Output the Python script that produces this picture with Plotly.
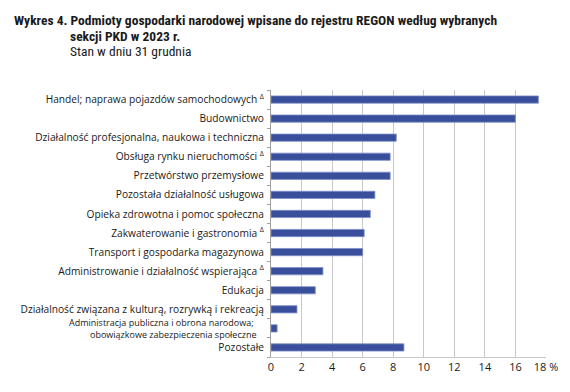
import plotly.graph_objects as go

categories = [
    "Handel; naprawa pojazdów samochodowych <sup>Δ</sup>",
    "Budownictwo",
    "Działalność profesjonalna, naukowa i techniczna",
    "Obsługa rynku nieruchomości <sup>Δ</sup>",
    "Przetwórstwo przemysłowe",
    "Pozostała działalność usługowa",
    "Opieka zdrowotna i pomoc społeczna",
    "Zakwaterowanie i gastronomia <sup>Δ</sup>",
    "Transport i gospodarka magazynowa",
    "Administrowanie i działalność wspierająca <sup>Δ</sup>",
    "Edukacja",
    "Działalność związana z kulturą, rozrywką i rekreacją",
    "Administracja publiczna i obrona narodowa;<br>obowiązkowe zabezpieczenia społeczne",
    "Pozostałe",
]
values = [17.5, 16.0, 8.2, 7.8, 7.8, 6.8, 6.5, 6.1, 6.0, 3.4, 2.9, 1.7, 0.4, 8.7]
tick_vals = [0, 2, 4, 6, 8, 10, 12, 14, 16, 18]
tick_text = ["0", "2", "4", "6", "8", "10", "12", "14", "16", "18 %"]

title_line1 = "Wykres 4. Podmioty gospodarki narodowej wpisane do rejestru REGON według wybranych"
title_line2 = "sekcji PKD w 2023 r."
subtitle = "Stan w dniu 31 grudnia"

FONT = "Open Sans"
TFONT = "Liberation Sans Narrow, Roboto Condensed, Roboto"

fig = go.Figure(
    go.Bar(
        x=values,
        y=categories,
        orientation="h",
        width=0.38,
        marker=dict(color="#3a4f9c", line=dict(color="#7f8fc8", width=0.8)),
    )
)

L, R, T, B = 271, 24, 90, 35
W, H = 570, 392
pw = W - L - R


def px(xp):
    return (xp - L) / pw


def py(yp):
    return 1 + (T - yp) / (H - T - B)


# multi-line category label drawn as separate lines (tighter line spacing)
y_ticktext = ["" if "<br>" in c else c for c in categories]
multi = [c for c in categories if "<br>" in c][0].split("<br>")

annotations = [
    dict(text="<b>" + title_line1 + "</b>", x=px(12), y=py(20), xref="paper", yref="paper",
         xanchor="left", yanchor="middle", showarrow=False,
         font=dict(family=TFONT, size=13.5, color="#1a1a1a")),
    dict(text="<b>" + title_line2 + "</b>", x=px(68), y=py(36), xref="paper", yref="paper",
         xanchor="left", yanchor="middle", showarrow=False,
         font=dict(family=TFONT, size=13.5, color="#1a1a1a")),
    dict(text=subtitle, x=px(68), y=py(51), xref="paper", yref="paper",
         xanchor="left", yanchor="middle", showarrow=False,
         font=dict(family=TFONT, size=13.5, color="#1a1a1a")),
]
for line, xr, yc in zip(multi, [256, 259], [322.6, 334.6]):
    annotations.append(
        dict(text=line, x=px(xr), y=py(yc), xref="paper", yref="paper",
             xanchor="right", yanchor="middle", showarrow=False,
             font=dict(family=FONT, size=9.0, color="#1a1a1a"))
    )

fig.update_layout(
    width=W,
    height=H,
    margin=dict(l=L, r=R, t=T, b=B, autoexpand=False),
    paper_bgcolor="white",
    plot_bgcolor="white",
    showlegend=False,
    font=dict(family=FONT, size=10.2, color="#1a1a1a"),
    xaxis=dict(
        range=[0, 18],
        tickvals=tick_vals,
        ticktext=tick_text,
        showgrid=True,
        gridcolor="#c8c8c8",
        gridwidth=1,
        zeroline=False,
        showline=True,
        linecolor="#c8c8c8",
        ticks="",
        tickfont=dict(family=FONT, size=11, color="#1a1a1a"),
        fixedrange=True,
    ),
    yaxis=dict(
        autorange="reversed",
        tickmode="array",
        tickvals=categories,
        ticktext=y_ticktext,
        showline=True,
        linecolor="#a0a0a0",
        ticks="outside",
        tickson="boundaries",
        ticklen=3,
        tickcolor="#a0a0a0",
        showgrid=False,
        tickfont=dict(family=FONT, size=10.2, color="#1a1a1a"),
        ticklabelstandoff=4,
        fixedrange=True,
    ),
    annotations=annotations,
)

fig.write_html(
    "out.html",
    config={"displayModeBar": False},
    post_script="document.body.style.margin='0';",
)
